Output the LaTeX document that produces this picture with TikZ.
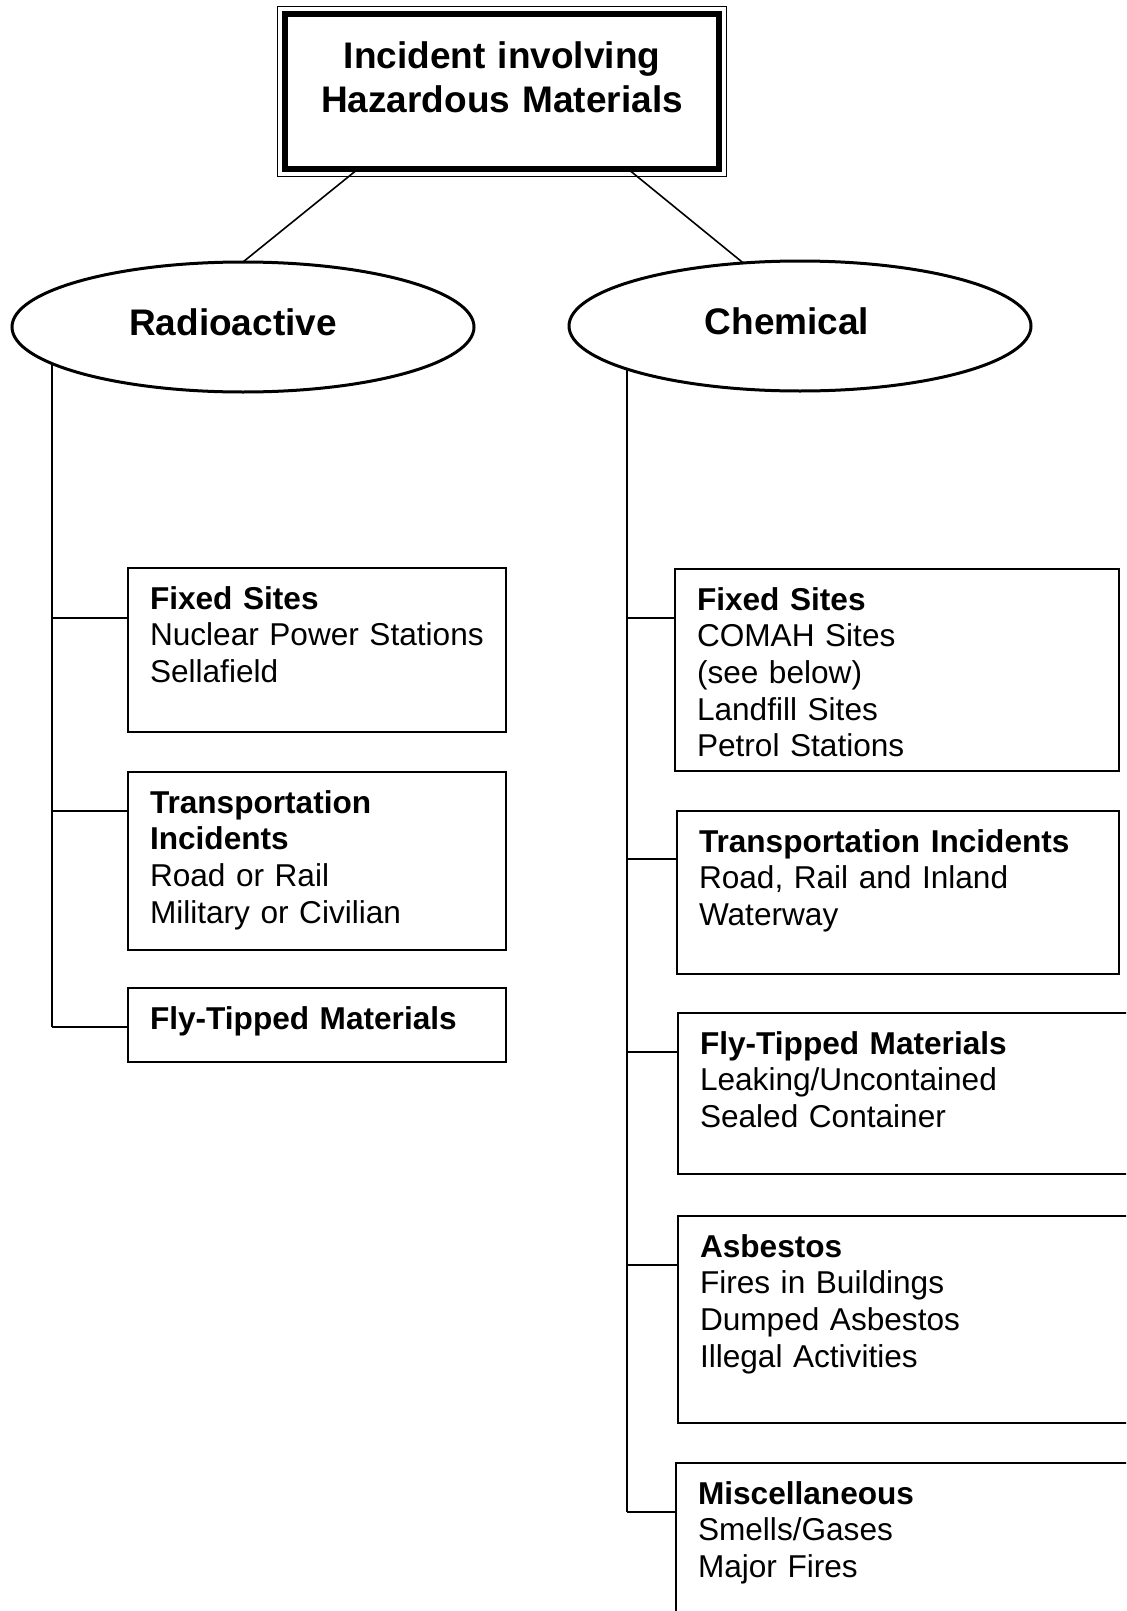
\documentclass[tikz,border=0pt]{standalone}
\usepackage{fontspec}
\setmainfont{Liberation Sans}
\usetikzlibrary{shapes.geometric}

\tikzset{
  headbox/.style={draw, line width=3pt, inner sep=0pt, outer sep=0pt,
    text width=217pt, align=center, text height=27.5pt, text depth=50pt,
    font=\fontsize{18.5pt}{21.5pt}\selectfont\bfseries},
  kind/.style={ellipse, draw, line width=1.5pt, inner sep=0pt, outer sep=0pt,
    minimum width=231pt, minimum height=65pt, text height=13pt, text depth=5pt,
    font=\fontsize{18.5pt}{21.5pt}\selectfont\bfseries},
  itembox/.style={draw, line width=1pt, anchor=north west, inner xsep=11pt,
    inner ysep=0pt, outer sep=0pt, align=left, text height=20.5pt,
    font=\fontsize{15.8pt}{18.35pt}\selectfont},
  link/.style={line width=0.8pt},
}

\begin{document}
\begin{tikzpicture}[x=0.5pt, y=-0.5pt]
  \path[use as bounding box, clip] (0,0) rectangle (1126,1611);

  % top of the tree
  \node[headbox] (head) at (502,91.5) {Incident involving\\Hazardous Materials};
  \draw[line width=0.75pt] ([xshift=-3.75pt,yshift=3.75pt]head.north west)
    rectangle ([xshift=3.75pt,yshift=-3.75pt]head.south east);

  \node[kind] (rad) at (243,327) {Radioactive\hspace*{10pt}};
  \node[kind] (chem) at (800,326) {Chemical\hspace*{13pt}};
  \draw[link] ([xshift=-72pt]head.south) -- (rad.north);
  \draw[link] ([xshift=63pt]head.south) -- (chem.132.6);

  % radioactive
  \node[itembox, text width=167pt, text depth=61.5pt] (lfix) at (128,568)
    {\textbf{Fixed Sites}\\Nuclear Power Stations\\Sellafield};
  \node[itembox, text width=167pt, text depth=68.5pt] (ltrans) at (128,772)
    {\textbf{Transportation}\\\textbf{Incidents}\\Road or Rail\\Military or Civilian};
  \node[itembox, text width=167pt, text depth=16.5pt] (lfly) at (128,988)
    {\textbf{Fly-Tipped Materials}};

  \coordinate (rtop) at (52,364);
  \coordinate (rj1) at (52,618);
  \coordinate (rj2) at (52,811);
  \coordinate (rj3) at (52,1027);
  \draw[link] (rtop) -- (rj3);
  \foreach \j/\b in {rj1/lfix, rj2/ltrans, rj3/lfly}
    \draw[link] (\j) -- (\j -| \b.west);

  % chemical
  \node[itembox, text width=200pt, text depth=80.5pt] (cfix) at (675,569)
    {\textbf{Fixed Sites}\\COMAH Sites\\(see below)\\Landfill Sites\\Petrol Stations};
  \node[itembox, text width=199pt, text depth=61pt] (ctrans) at (677,811)
    {\textbf{Transportation Incidents}\\Road, Rail and Inland\\Waterway};
  \node[itembox, text width=209pt, text depth=60pt] (cfly) at (678,1013)
    {\textbf{Fly-Tipped Materials}\\Leaking/Uncontained\\Sealed Container};
  \node[itembox, text width=209pt, text depth=83pt] (casb) at (678,1216)
    {\textbf{Asbestos}\\Fires in Buildings\\Dumped Asbestos\\Illegal Activities};
  \node[itembox, text width=209pt, text depth=80pt] (cmisc) at (676,1463)
    {\textbf{Miscellaneous}\\Smells/Gases\\Major Fires};

  \coordinate (ctop) at (627,369);
  \coordinate (cj1) at (627,618);
  \coordinate (cj2) at (627,859);
  \coordinate (cj3) at (627,1052);
  \coordinate (cj4) at (627,1265);
  \coordinate (cj5) at (627,1512);
  \draw[link] (ctop) -- (cj5);
  \foreach \j/\b in {cj1/cfix, cj2/ctrans, cj3/cfly, cj4/casb, cj5/cmisc}
    \draw[link] (\j) -- (\j -| \b.west);
\end{tikzpicture}
\end{document}
